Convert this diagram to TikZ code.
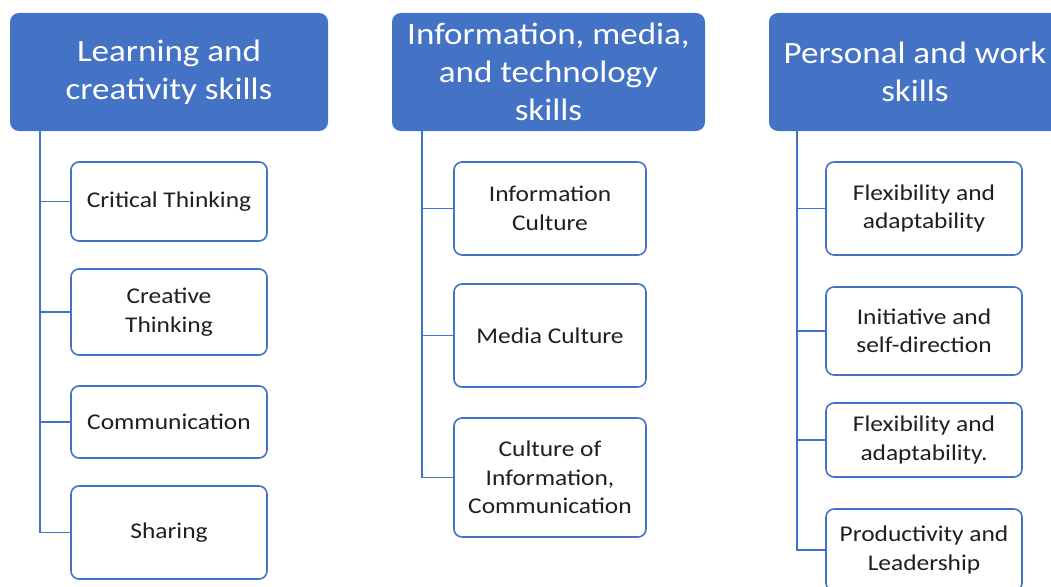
\documentclass[tikz,border=0pt]{standalone}
\usepackage{fontspec}
\setmainfont{Carlito}[FakeStretch=1.13]
\usepackage{tikz}
\usetikzlibrary{positioning}
\definecolor{SkillBlue}{HTML}{4472C4}
\definecolor{SkillText}{HTML}{1F1F1F}

\tikzset{
  header/.style={fill=SkillBlue, rounded corners=9pt, text=white, align=center,
    font=\fontsize{31}{38}\selectfont, inner sep=0pt},
  item/.style={draw=SkillBlue, line width=1.6pt, rounded corners=8pt, fill=white,
    text=SkillText, align=center, font=\fontsize{22.5}{28.5}\selectfont, inner sep=0pt},
  link/.style={draw=SkillBlue, line width=1.6pt}
}

\begin{document}
\begin{tikzpicture}[x=1pt,y=-1pt]
        \useasboundingbox (0,0) rectangle (1051,586);
        \clip (0,0) rectangle (1051,586);

        % Headers
        \node[header, minimum width=318pt, minimum height=118pt] (learn) at (169,72)
          {Learning and\\creativity skills};
        \node[header, minimum width=313pt, minimum height=118pt] (media) at (548.5,72)
          {Information, media,\\and technology\\skills};
        \node[header, minimum width=292pt, minimum height=118pt] (work) at (915,72)
          {Personal and work\\skills};

        % Learning and creativity skills
        \node[item, minimum width=196pt, minimum height=79pt] (crit) at (169,201.5) {Critical Thinking};
        \node[item, minimum width=196pt, minimum height=86pt] (crea) at (169,312) {Creative\\Thinking};
        \node[item, minimum width=196pt, minimum height=72pt] (comm) at (169,422) {Communication};
        \node[item, minimum width=196pt, minimum height=93pt] (share) at (169,532.5) {Sharing};

        % Information, media, and technology skills
        \node[item, minimum width=192pt, minimum height=93pt] (info) at (550,208.5) {Information\\Culture};
        \node[item, minimum width=192pt, minimum height=103pt] (mcult) at (550,335.5) {Media Culture};
        \node[item, minimum width=192pt, minimum height=119pt] (icc) at (550,477.5)
          {Culture of\\Information,\\Communication};

        % Personal and work skills
        \node[item, minimum width=196pt, minimum height=93pt] (flex) at (924,208.5) {Flexibility and\\adaptability};
        \node[item, minimum width=196pt, minimum height=88pt] (init) at (924,331) {Initiative and\\self-direction};
        \node[item, minimum width=196pt, minimum height=74pt] (flexb) at (924,440) {Flexibility and\\adaptability.};
        \node[item, minimum width=196pt, minimum height=82pt] (prod) at (924,550) {Productivity and\\Leadership};

        % Trunks
        \coordinate (t1) at (40,131);
        \coordinate (t2) at (422,131);
        \coordinate (t3) at (797,131);

        % Branches
        \draw[link] (t1) |- (crit.west);
        \draw[link] (t1) |- (crea.west);
        \draw[link] (t1) |- (comm.west);
        \draw[link] (t1) |- (share.west);

        \draw[link] (t2) |- (info.west);
        \draw[link] (t2) |- (mcult.west);
        \draw[link] (t2) |- (icc.west);

        \draw[link] (t3) |- (flex.west);
        \draw[link] (t3) |- (init.west);
        \draw[link] (t3) |- (flexb.west);
        \draw[link] (t3) |- (prod.west);
      \end{tikzpicture}
\end{document}
